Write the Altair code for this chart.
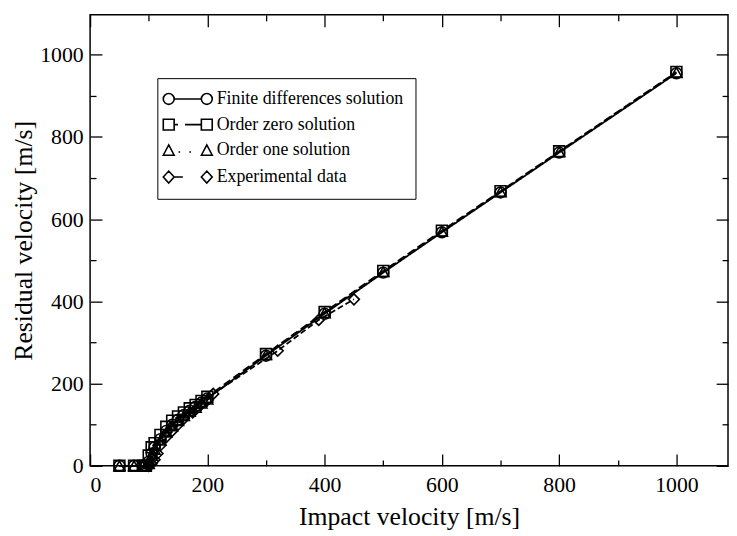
import altair as alt
import pandas as pd

series_names = ["Finite differences solution", "Order zero solution",
                "Order one solution", "Experimental data"]

fd_x = [50, 75, 90, 95, 100, 105, 110, 120, 130, 140, 150, 160, 170, 180, 190, 200,
        300, 400, 500, 600, 700, 800, 1000]
fd_y = [0, 0, 0, 0, 10, 30, 45, 65, 85, 100, 112, 124, 134, 144, 154, 164,
        268, 370, 470, 568, 665, 762, 955]

oz_x = [50, 75, 90, 95, 100, 105, 110, 120, 130, 140, 150, 160, 170, 180, 190, 200,
        300, 400, 500, 600, 700, 800, 1000]
oz_y = [0, 0, 0, 0, 25, 45, 55, 75, 95, 110, 120, 130, 140, 148, 158, 168,
        272, 374, 474, 572, 668, 765, 958]

oo_x = [50, 75, 90, 95, 100, 105, 110, 120, 130, 140, 150, 160, 170, 180, 190, 200,
        300, 400, 500, 600, 700, 800, 1000]
oo_y = [0, 0, 0, 0, 5, 25, 40, 62, 82, 97, 110, 122, 132, 142, 152, 162,
        270, 372, 472, 570, 667, 764, 957]

ex_x = [100, 105, 110, 115, 120, 130, 140, 150, 160, 175, 190, 200, 210, 320, 390, 450]
ex_y = [0, 5, 15, 30, 50, 70, 85, 100, 115, 130, 150, 160, 175, 280, 355, 405]

x_major = [0, 200, 400, 600, 800, 1000]
x_minor = [100, 300, 500, 700, 900]
y_major = [0, 200, 400, 600, 800, 1000]
y_minor = [100, 300, 500, 700, 900]

rows = []
for name, xs, ys in zip(series_names, [fd_x, oz_x, oo_x, ex_x], [fd_y, oz_y, oo_y, ex_y]):
    for a, b in zip(xs, ys):
        rows.append({"series": name, "x": a, "y": b})
df = pd.DataFrame(rows)

FONT = "Liberation Serif"
W, H = 645, 456
xscale = alt.Scale(domain=[0, 1088], nice=False, zero=False)
yscale = alt.Scale(domain=[0, 1097], nice=False, zero=False)


def tick_axis(orient, offset, values, size):
    return alt.Axis(orient=orient, offset=offset, values=values, tickSize=size,
                    labels=False, domain=False, grid=False, title=None,
                    tickColor="black", tickWidth=1.3)


main_x = alt.Axis(orient="bottom", values=x_major, ticks=False, domain=False, grid=False,
                  format="d", title="Impact velocity [m/s]", labelFont=FONT, labelFontSize=22,
                  labelColor="black", labelPadding=9, titleFont=FONT, titleFontSize=26,
                  titleFontWeight="normal", titleColor="black", titlePadding=8)
main_y = alt.Axis(orient="left", values=y_major, ticks=False, domain=False, grid=False,
                  format="d", title="Residual velocity [m/s]", labelFont=FONT, labelFontSize=22,
                  labelColor="black", labelPadding=7, titleFont=FONT, titleFontSize=26,
                  titleFontWeight="normal", titleColor="black", titlePadding=3)

base = alt.Chart(df)

lines = base.mark_line(color="black", strokeWidth=1.8).encode(
    x=alt.X("x:Q", scale=xscale, axis=main_x),
    y=alt.Y("y:Q", scale=yscale, axis=main_y),
    strokeDash=alt.StrokeDash("series:N", scale=alt.Scale(
        domain=series_names, range=[[1, 0], [8, 4], [2, 4], [6, 3]]), legend=None),
    detail="series:N",
)

points = base.mark_point(filled=False, color="black", strokeWidth=1.6, size=121, opacity=1).encode(
    x=alt.X("x:Q", scale=xscale, axis=tick_axis("top", -H, x_major, 12)),
    y=alt.Y("y:Q", scale=yscale, axis=tick_axis("right", -W, y_major, 12)),
    shape=alt.Shape("series:N", scale=alt.Scale(
        domain=series_names, range=["circle", "square", "triangle-up", "diamond"]), legend=None),
)

legend_paths = [
    "M -8,0 A 1,1 0 1,0 -6,0 A 1,1 0 1,0 -8,0 M -6,0 L -1,0 M 1,0 A 1,1 0 1,0 -1,0 A 1,1 0 1,0 1,0",
    "M -8,-1 L -6,-1 L -6,1 L -8,1 Z M -6,0 L -5.3,0 M -4,0 L -1,0 M -1,-1 L 1,-1 L 1,1 L -1,1 Z",
    "M -8,0.9 L -7,-1 L -6,0.9 Z M -5.2,0.3 L -4.9,0.3 M -3.2,0.3 L -2.9,0.3 M -1,0.9 L 0,-1 L 1,0.9 Z",
    "M -8,0 L -7,-1.1 L -6,0 L -7,1.1 Z M -6,0 L -4.4,0 M -1,0 L 0,-1.1 L 1,0 L 0,1.1 Z",
]

leg = base.mark_point(opacity=0, filled=False, color="black").encode(
    x=alt.X("x:Q", scale=xscale, axis=tick_axis("bottom", -H, x_major, 12)),
    y=alt.Y("y:Q", scale=yscale, axis=tick_axis("left", -W, y_major, 12)),
    shape=alt.Shape("series:N", scale=alt.Scale(domain=series_names, range=legend_paths),
                    legend=alt.Legend(orient="none", legendX=68, legendY=64, title=None,
                                      symbolSize=121, symbolStrokeColor="black",
                                      symbolFillColor="transparent", symbolOpacity=1,
                                      symbolStrokeWidth=1.6, symbolOffset=29,
                                      labelFont=FONT, labelFontSize=18, labelColor="black",
                                      labelLimit=400, labelOffset=1, rowPadding=8, padding=12,
                                      strokeColor="black", fillColor="white")),
)

minor1 = base.mark_point(opacity=0).encode(
    x=alt.X("x:Q", scale=xscale, axis=tick_axis("top", -H, x_minor, 6)),
    y=alt.Y("y:Q", scale=yscale, axis=tick_axis("right", -W, y_minor, 6)),
)
minor2 = base.mark_point(opacity=0).encode(
    x=alt.X("x:Q", scale=xscale, axis=tick_axis("bottom", -H, x_minor, 6)),
    y=alt.Y("y:Q", scale=yscale, axis=tick_axis("left", -W, y_minor, 6)),
)

chart = alt.layer(lines, points, leg, minor1, minor2).resolve_axis(
    x="independent", y="independent"
).resolve_scale(shape="independent").properties(
    width=W, height=H,
    autosize=alt.AutoSizeParams(type="none"),
    padding={"left": 83, "top": 4, "right": 1, "bottom": 68},
    background="white",
).configure_view(stroke="black", strokeWidth=1.5)

chart.save("out.html", embed_options={"renderer": "svg", "actions": False})
